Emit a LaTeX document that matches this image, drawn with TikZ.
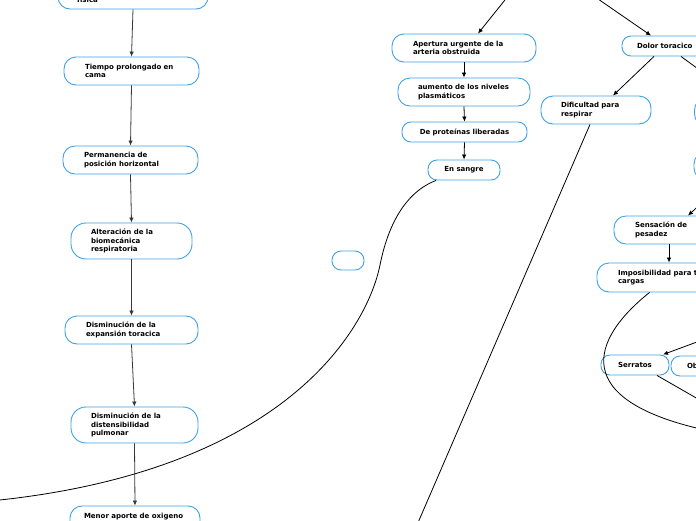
\documentclass[tikz,border=0pt]{standalone}
\usepackage{fontspec}
\setmainfont{DejaVu Sans}
\usetikzlibrary{arrows.meta,calc}
\definecolor{nodeblue}{HTML}{3FA2E6}
\definecolor{arrgray}{HTML}{333A36}
\begin{document}
\begin{tikzpicture}[x=1pt,y=-1pt,
 box/.style={draw=nodeblue, line width=0.9pt, rounded corners=12pt, fill=white,
   font=\fontsize{7}{8.5}\selectfont\bfseries, align=left, inner ysep=1pt,
   minimum height=28pt, text=black},
 tbox/.style={box, rounded corners=15pt, minimum height=36pt},
 cbox/.style={box, align=center, rounded corners=9pt, minimum height=20pt},
 arr/.style={-{Latex[length=5pt,width=4.5pt]}, line width=0.8pt, draw=black},
 larr/.style={arr, draw=arrgray},
 link/.style={line width=0.8pt, draw=black}]
\clip (0,0) rectangle (696,520);
\fill[white] (0,0) rectangle (696,520);

% left column
\node[box, text width=112pt, inner xsep=19pt] (fis) at (133,-5) {\mbox{}\\[6pt]física};
\node[box, text width=93pt, inner xsep=21pt] (tie) at (131.5,71) {Tiempo prolongado en\\cama};
\node[box, text width=93pt, inner xsep=21pt] (per) at (130.5,160) {Permanencia de\\posición horizontal};
\node[tbox, text width=81pt, inner xsep=20pt] (alt) at (131.5,241) {Alteración de la\\biomecánica\\respiratoria};
\node[box, text width=91pt, inner xsep=21pt] (dex) at (131.5,330) {Disminución de la\\expansión toracica};
\node[tbox, text width=87pt, inner xsep=20pt] (ddi) at (134.5,425) {Disminución de la\\distensibilidad\\pulmonar};
\node[box, text width=102pt, inner xsep=14pt] (men) at (135,520) {Menor aporte de oxigeno\\\mbox{}};

% middle column
\node[box, text width=102pt, inner xsep=21pt] (ape) at (464,48) {Apertura urgente de la\\arteria obstruida};
\node[box, text width=92pt, inner xsep=20pt] (aum) at (464,92) {aumento de los niveles\\plasmáticos};
\node[cbox, text width=105pt, inner xsep=10pt] (pro) at (464.5,132) {De proteínas liberadas};
\node[cbox, text width=52pt, inner xsep=10pt] (san) at (464,170) {En sangre};
\node[cbox, minimum width=32pt, minimum height=19pt] (emp) at (348,260.5) {};

% right part
\node[cbox, align=left, text width=60pt, inner xsep=15pt] (dol) at (667,46) {Dolor toracico};
\node[box, text width=70pt, inner xsep=20pt] (dif) at (596,110) {Dificultad para\\respirar};
\node[box, minimum width=100pt] (ra) at (744.5,112) {};
\node[box, minimum width=100pt] (rb) at (744,166) {};
\node[box, text width=68pt, inner xsep=21pt] (sen) at (669,230) {Sensación de\\pesadez};
\node[box, text width=118pt, inner xsep=21pt, minimum height=29pt] (imp) at (677,277.5) {Imposibilidad para t\\cargas};
\node[cbox, text width=52pt, inner xsep=8pt] (ser) at (635,365) {Serratos};
\node[cbox, align=left, text width=50pt, inner xsep=16pt] (ob) at (712,366) {Ob};

% free ends outside the frame
\coordinate (topA) at (513,-10);
\coordinate (topB) at (585,-10);
\coordinate (outD) at (705,74);
\coordinate (outS) at (705,200);
\coordinate (outR) at (705,339);
\coordinate (outSer) at (705,403);
\coordinate (outImp) at (705,430);
\coordinate (outL) at (-5,500.5);
\coordinate (outDif) at (417,525);

% left arrows
\draw[larr] (fis.south) -- (tie.north);
\draw[larr] (tie.south) -- (per.north);
\draw[larr] (per.south) -- (alt.north);
\draw[larr] (alt.south) -- (dex.north);
\draw[larr] (dex.south) -- (ddi.north);
\draw[larr] (ddi.south) -- (men.north);

% middle arrows
\draw[arr] (topA) -- ($(ape.north)+(14,0)$);
\draw[arr] (ape.south) -- (aum.north);
\draw[arr] (aum.south) -- (pro.north);
\draw[arr] (pro.south) -- (san.north);
\draw[link] ($(san.south)+(-28,0)$) .. controls (398,195) and (385,240) .. (380,265)
  .. controls (368,325) and (290,470) .. (outL);

% right arrows
\draw[arr] (topB) -- ($(dol.north)+(-16,0)$);
\draw[arr] ($(dol.south)+(-13,0)$) -- ($(dif.north)+(17,0)$);
\draw[link] ($(dol.south)+(14,0)$) -- (outD);
\draw[link] ($(dif.south)+(-6,0)$) -- (outDif);
\draw[arr] (outS) -- ($(sen.north)+(19,0)$);
\draw[arr] (sen.south) -- (sen.south |- imp.north);
\draw[link] ($(imp.south west)+(53,0)$) .. controls (590,340) and (570,400) .. (outImp);
\draw[arr] (outR) -- ($(ser.north)+(28,0)$);
\draw[link] ($(ser.south)+(22,0)$) -- (outSer);
\end{tikzpicture}
\end{document}
